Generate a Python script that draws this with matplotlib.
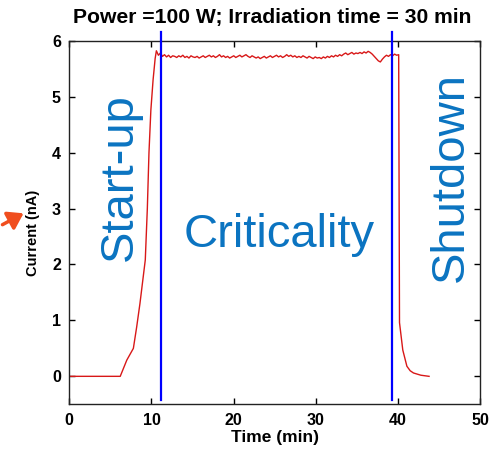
import numpy as np
import matplotlib
matplotlib.use("Agg")
import matplotlib.pyplot as plt

plt.rcParams['font.family'] = ['Liberation Sans', 'DejaVu Sans']

# Reactor current log: baseline and start-up ramp
rise_t = [0.0, 6.2, 7.0, 7.8, 8.2, 8.6, 9.0, 9.25, 9.5, 9.7, 9.93, 10.2, 10.45]
rise_i = [0.0, 0.0, 0.29, 0.5, 0.88, 1.3, 1.78, 2.08, 3.0, 4.0, 4.76, 5.3, 5.68]

# Critical plateau (sampled every ~0.25 min)
plateau_start, plateau_end = 10.6, 40.1
plateau_i = [
    5.82, 5.74, 5.78, 5.72, 5.75, 5.71, 5.74, 5.70, 5.73, 5.72,
    5.70, 5.73, 5.71, 5.74, 5.70, 5.72, 5.69, 5.73, 5.71, 5.70,
    5.72, 5.69, 5.71, 5.73, 5.70, 5.72, 5.74, 5.71, 5.73, 5.70,
    5.72, 5.75, 5.71, 5.73, 5.70, 5.72, 5.69, 5.71, 5.73, 5.70,
    5.72, 5.74, 5.71, 5.73, 5.75, 5.72, 5.70, 5.73, 5.71, 5.69,
    5.71, 5.68, 5.70, 5.72, 5.69, 5.71, 5.73, 5.70, 5.72, 5.74,
    5.71, 5.73, 5.70, 5.72, 5.75, 5.72, 5.74, 5.71, 5.73, 5.70,
    5.72, 5.70, 5.73, 5.71, 5.69, 5.72, 5.70, 5.68, 5.71, 5.69,
    5.70, 5.68, 5.71, 5.69, 5.72, 5.70, 5.73, 5.71, 5.74, 5.72,
    5.75, 5.73, 5.76, 5.78, 5.75, 5.77, 5.79, 5.76, 5.78, 5.77,
    5.79, 5.77, 5.80, 5.78, 5.81, 5.79, 5.76, 5.72, 5.68, 5.64,
    5.62, 5.67, 5.71, 5.74, 5.72, 5.75, 5.73, 5.76, 5.74, 5.75,
]

# Shutdown decay
drop_t = [40.2, 40.6, 41.1, 41.5, 41.9, 42.8, 43.8]
drop_i = [0.96, 0.47, 0.18, 0.10, 0.06, 0.02, 0.0]

# Phase boundaries (min)
boundaries = [11.2, 39.3]

x_ticks = [0, 10, 20, 30, 40, 50]
y_ticks = [0, 1, 2, 3, 4, 5, 6]

plateau_t = np.linspace(plateau_start, plateau_end, len(plateau_i))
t = np.concatenate([rise_t, plateau_t, drop_t])
current = np.concatenate([rise_i, plateau_i, drop_i])

W, H = 493, 453
fig = plt.figure(figsize=(W / 100, H / 100), dpi=100)
ax = fig.add_axes([69.3 / W, 1 - 404.3 / H, (480 - 69.3) / W, (404.3 - 40.7) / H])

ax.plot(t, current, color='#D81818', lw=1.0)
for b in boundaries:
    ax.plot([b, b], [-0.42, 6.16], color='#0000FF', lw=1.6, clip_on=False, zorder=3)

ax.set_xlim(0, 50)
ax.set_ylim(-0.5, 6)
ax.set_xticks(x_ticks)
ax.set_yticks(y_ticks)
ax.tick_params(direction='in', top=True, right=True, length=4, width=1,
               labelsize=11.5, pad=6)
for lab in ax.get_xticklabels() + ax.get_yticklabels():
    lab.set_fontweight('bold')
for s in ax.spines.values():
    s.set_linewidth(1.0)
    s.set_color('#222222')

ax.set_xlabel('Time (min)', fontsize=12.5, fontweight='bold', labelpad=2)
fig.text(33 / W, 1 - 233 / H, 'Current (nA)', rotation=90, fontsize=10.5,
         fontweight='bold', ha='center', va='center')
fig.text(272 / W, 1 - 18 / H, 'Power =100 W; Irradiation time = 30 min',
         fontsize=15.2, fontweight='bold', ha='center', va='center')

phase_color = '#0B74C1'
fig.text(120 / W, 1 - 177 / H, 'Start-up', rotation=90, fontsize=34,
         color=phase_color, ha='center', va='center')
fig.text(279 / W, 1 - 235 / H, 'Criticality', fontsize=34,
         color=phase_color, ha='center', va='center')
fig.text(451 / W, 1 - 177 / H, 'Shutdown', rotation=90, fontsize=34,
         color=phase_color, ha='center', va='center')

fig.add_artist(matplotlib.patches.FancyArrowPatch(
    (0 / W, 1 - 226 / H), (26 / W, 1 - 212 / H), transform=fig.transFigure,
    arrowstyle='-|>,head_length=6,head_width=4', color='#F04E1E', lw=2.5,
    mutation_scale=1.5))

fig.savefig('out.png', dpi=100)
